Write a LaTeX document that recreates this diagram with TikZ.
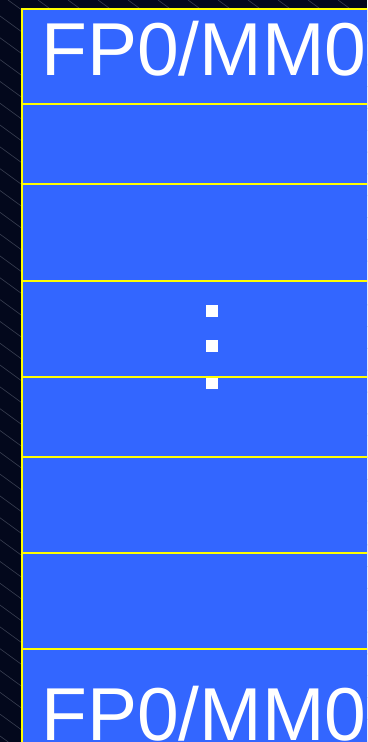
\documentclass[tikz,border=0pt]{standalone}
\usepackage{fontspec}
\setmainfont{Liberation Sans}
\definecolor{slideBg}{HTML}{03081C}
\definecolor{hatchGrey}{HTML}{3A4052}
\definecolor{regBlue}{HTML}{3366FF}
\definecolor{regEdge}{HTML}{FFFF00}

\begin{document}
\begin{tikzpicture}[x=1pt, y=-1pt,
    cell/.style={draw=regEdge, line width=2.4pt, fill=regBlue},
    regname/.style={font=\fontsize{75}{75}\selectfont, text=white, inner sep=0pt, anchor=base west},
    dotbox/.style={fill=white, minimum width=12pt, minimum height=11.5pt, inner sep=0pt}
]
\useasboundingbox (0,0) rectangle (367,742);
\clip (0,0) rectangle (367,742);
\fill[slideBg] (0,0) rectangle (367,742);
\foreach \k in {-40,...,14}
  \draw[hatchGrey, line width=0.6pt] (\k*30+8, 0) -- ++(1100, 800);
% register rows
\foreach \top/\bot in {9/104,104/184,184/281,281/377,377/457,457/553,553/649,649/780}
  \draw[cell] (22,\top) rectangle (390,\bot);
\node[regname] (first) at (41,75) {FP0/MM0};
\node[regname] (last) at (41,740) {FP0/MM0};
\node[dotbox] (d1) at (212,311) {};
\node[dotbox] (d2) at (212,346) {};
\node[dotbox] (d3) at (212,383.5) {};
\end{tikzpicture}
\end{document}
